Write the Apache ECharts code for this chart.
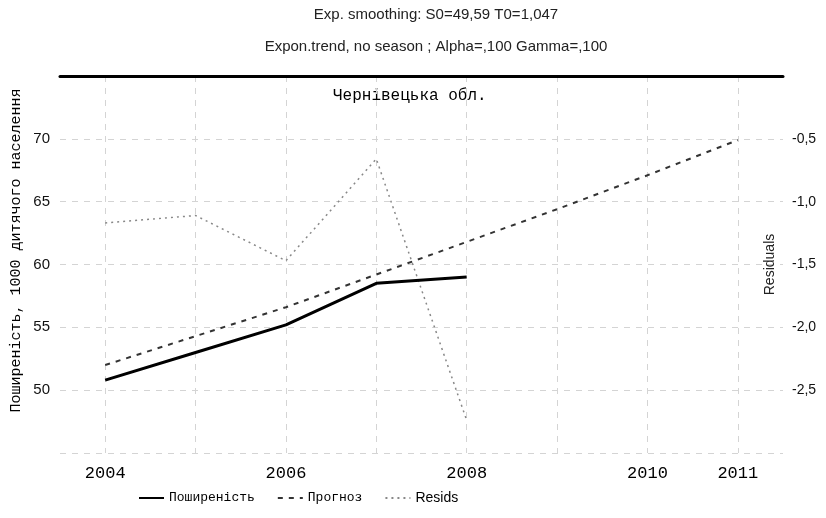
<!DOCTYPE html>
<html><head><meta charset="utf-8">
<script src="https://cdn.jsdelivr.net/npm/echarts@6/dist/echarts.min.js"></script>
<style>html,body{margin:0;padding:0;background:#fff}#c{width:826px;height:518px}</style>
</head><body><div id="c"></div>
<script>
const titleLine1 = 'Exp. smoothing: S0=49,59 T0=1,047';
const titleLine2 = 'Expon.trend, no season ; Alpha=,100 Gamma=,100';
const regionLabel = 'Чернівецька обл.';
const leftAxisName = 'Поширеність, 1000 дитячого населення';
const rightAxisName = 'Residuals';

const yearsActual = [2004, 2005, 2006, 2007, 2008];
const prevalence = [50.8, 53.0, 55.2, 58.5, 59.0];
const yearsForecast = [2004, 2005, 2006, 2007, 2008, 2009, 2010, 2011];
const forecast = [52.0, 54.3, 56.6, 59.2, 61.8, 64.4, 67.1, 69.9];
const residuals = [-1.17, -1.11, -1.47, -0.66, -2.74];

const xLabelYears = [2004, 2006, 2008, 2010, 2011];
const xGridYears = [2004, 2005, 2006, 2007, 2008, 2009, 2010, 2011];
const leftShown = [50, 55, 60, 65, 70];
const rightShown = [-0.5, -1.0, -1.5, -2.0, -2.5];

const MONO = 'Liberation Mono';
const SANS = 'Liberation Sans';

const chart = echarts.init(document.getElementById('c'), null, {renderer: 'canvas'});
chart.setOption({
  animation: false,
  backgroundColor: '#fff',
  graphic: [
    {type: 'text', x: 436, y: 15, style: {text: titleLine1, textAlign: 'center', textVerticalAlign: 'middle', font: '15px "Liberation Sans"', fill: '#222'}},
    {type: 'text', x: 436, y: 47, style: {text: titleLine2, textAlign: 'center', textVerticalAlign: 'middle', font: '15px "Liberation Sans"', fill: '#222'}},
    {type: 'text', x: 333, y: 96, style: {text: regionLabel, textAlign: 'left', textVerticalAlign: 'middle', font: '16px "Liberation Mono"', fill: '#000'}}
  ],
  grid: {left: 60, right: 43, top: 76, bottom: 65, containLabel: false, outerBoundsMode: 'none'},
  legend: {
    left: 133, bottom: 8, orient: 'horizontal',
    itemWidth: 25, itemHeight: 12, itemGap: 22,
    itemStyle: {opacity: 0},
    textStyle: {fontFamily: MONO, fontSize: 13, color: '#000'},
    data: [
      {name: 'Поширеність'},
      {name: 'Прогноз'},
      {name: 'Resids', textStyle: {fontFamily: SANS, fontSize: 14}}
    ]
  },
  xAxis: [{
    type: 'value', min: 2003.5, max: 2011.5,
    axisLine: {show: false},
    axisTick: {show: false, customValues: xGridYears},
    axisLabel: {customValues: xLabelYears, fontFamily: MONO, fontSize: 17, color: '#000', margin: 12,
      formatter: v => String(v)},
    splitLine: {show: true, lineStyle: {color: '#d4d4d4', type: [6, 6], width: 1}}
  }, {
    type: 'value', min: 2003.5, max: 2011.5, position: 'top',
    axisLine: {show: true, lineStyle: {color: '#000', width: 3}},
    axisTick: {show: false}, axisLabel: {show: false}, splitLine: {show: false}
  }],
  yAxis: [{
    type: 'value', min: 45, max: 75, interval: 5, position: 'left',
    name: leftAxisName, nameLocation: 'middle', nameRotate: 90, nameGap: 36, nameMoveOverlap: false,
    nameTextStyle: {fontFamily: MONO, fontSize: 15, color: '#000', padding: [0, 0, 0, 28]},
    axisLine: {show: false}, axisTick: {show: false},
    axisLabel: {fontFamily: SANS, fontSize: 15, color: '#111', margin: 10,
      formatter: v => leftShown.includes(v) ? String(v) : ''},
    splitLine: {show: true, lineStyle: {color: '#d4d4d4', type: [6, 6], width: 1}}
  }, {
    type: 'value', min: -3, max: 0, interval: 0.5, position: 'right',
    name: rightAxisName, nameLocation: 'middle', nameRotate: 90, nameGap: -20, nameMoveOverlap: false,
    nameTextStyle: {fontFamily: SANS, fontSize: 14, color: '#222', padding: [0, 0, 0, 0]},
    axisLine: {show: false}, axisTick: {show: false},
    axisLabel: {fontFamily: SANS, fontSize: 14, color: '#111', margin: 9,
      formatter: v => rightShown.some(r => Math.abs(r - v) < 1e-9) ? v.toFixed(1).replace('.', ',') : ''},
    splitLine: {show: false}
  }],
  series: [{
    name: 'Поширеність', type: 'line', xAxisIndex: 0, yAxisIndex: 0,
    data: yearsActual.map((y, i) => [y, prevalence[i]]),
    symbol: 'none', lineStyle: {color: '#000', width: 3}, itemStyle: {color: '#000'}, z: 5
  }, {
    name: 'Прогноз', type: 'line', xAxisIndex: 0, yAxisIndex: 0,
    data: yearsForecast.map((y, i) => [y, forecast[i]]),
    symbol: 'none', lineStyle: {color: '#333', width: 2, type: [5, 6]}, itemStyle: {color: '#333'}, z: 4
  }, {
    name: 'Resids', type: 'line', xAxisIndex: 0, yAxisIndex: 1,
    data: yearsActual.map((y, i) => [y, residuals[i]]),
    symbol: 'none', lineStyle: {color: '#888', width: 1.5, type: [2, 4]}, itemStyle: {color: '#888'}, z: 3
  }]
});
</script></body></html>
